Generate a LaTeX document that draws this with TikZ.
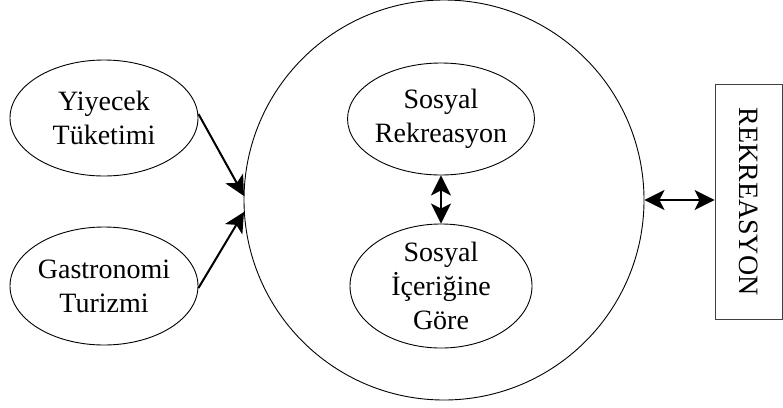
\documentclass[tikz,border=0pt]{standalone}
\usepackage{fontspec}
\setmainfont{Liberation Serif}
\usetikzlibrary{shapes.geometric,arrows.meta}
\begin{document}
\begin{tikzpicture}[x=1pt,y=-1pt,
  lbl/.style={font=\fontsize{28}{34}\selectfont, align=center, inner sep=0pt},
  oval/.style={ellipse, draw, line width=0.9pt, inner sep=0pt, lbl},
  conn/.style={line width=2pt, -{Stealth[length=20pt,width=20pt,inset=5pt]}},
  biconn/.style={line width=2pt, {Stealth[length=20pt,width=20pt,inset=5pt]}-{Stealth[length=20pt,width=20pt,inset=5pt]}}]
\useasboundingbox (0,0) rectangle (783,407);
\node[circle, draw, line width=0.9pt, minimum size=400pt, inner sep=0pt] (big) at (444,200) {};
\node[oval, minimum width=188pt, minimum height=116pt] (yiy) at (104,118) {Yiyecek\\Tüketimi};
\node[oval, minimum width=188pt, minimum height=118pt] (gas) at (104,286) {Gastronomi\\Turizmi};
\node[oval, minimum width=182pt, minimum height=112pt] (sr) at (441,119) {Sosyal\\Rekreasyon};
\node[oval, minimum width=182pt, minimum height=118pt] (sig) at (441,286) {Sosyal\\İçeriğine\\Göre};
\node[draw=black!75, line width=0.8pt, minimum width=67pt, minimum height=235pt, inner sep=0pt] (rek) at (748.5,201.5) {};
\node[lbl, rotate=-90] (rekt) at (rek.center) {REKREASYON};
\coordinate (t1) at (244,196);
\coordinate (t2) at (244,212);
\draw[conn] (yiy.east) ++(0,-4) -- (t1);
\draw[conn] (gas.east) ++(0,2) -- (t2);
\draw[biconn] (sr.south) -- (sig.north);
\draw[biconn] (big.east) -- (big.east -| rek.west);
\end{tikzpicture}
\end{document}
